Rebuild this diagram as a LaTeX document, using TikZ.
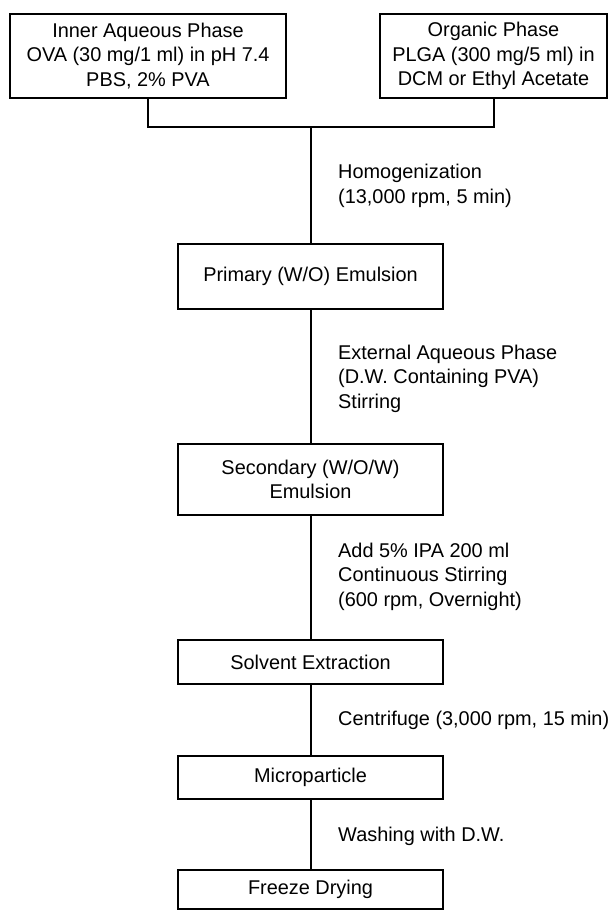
\documentclass[tikz,border=0pt]{standalone}
\usepackage{fontspec}
\setmainfont{Liberation Sans}
\begin{document}
\begin{tikzpicture}[x=1pt,y=-1pt,
  box/.style={draw,line width=2pt,inner sep=0pt,align=center,
    font=\fontsize{19.9}{24.5}\selectfont},
  lbl/.style={anchor=west,inner sep=0pt,align=left,
    font=\fontsize{19.9}{24.5}\selectfont},
  conn/.style={line width=2pt}]
\useasboundingbox (0,0) rectangle (609,911);
\node[box,minimum width=276pt,minimum height=84pt] (inner) at (148,56)
  {Inner Aqueous Phase\\OVA (30 mg/1 ml) in pH 7.4\\PBS, 2\% PVA};
\node[box,minimum width=227pt,minimum height=84pt] (organic) at (493.5,56)
  {Organic Phase\\PLGA (300 mg/5 ml) in\\DCM or Ethyl Acetate};
\coordinate (j) at (310.5,127);
\node[box,minimum width=265pt,minimum height=65pt] (primary) at (310.5,276.5)
  {Primary (W/O) Emulsion};
\node[box,minimum width=265pt,minimum height=71pt] (secondary) at (310.5,479.5)
  {Secondary (W/O/W)\\Emulsion};
\node[box,minimum width=265pt,minimum height=44pt] (solvent) at (310.5,662)
  {Solvent Extraction};
\node[box,minimum width=265pt,minimum height=43pt] (micro) at (310.5,777.5)
  {Microparticle};
\node[box,minimum width=265pt,minimum height=39pt] (freeze) at (310.5,889.5)
  {Freeze Drying};
\draw[conn] (inner.south) -- (inner.south |- j) -- (organic.south |- j) -- (organic.south);
\draw[conn] (j) -- (primary.north);
\draw[conn] (primary) -- (secondary);
\draw[conn] (secondary) -- (solvent);
\draw[conn] (solvent) -- (micro);
\draw[conn] (micro) -- (freeze);
\node[lbl] (l1) at (338,186) {Homogenization\\(13,000 rpm, 5 min)};
\node[lbl] (l2) at (338,378.5) {External Aqueous Phase\\(D.W. Containing PVA)\\Stirring};
\node[lbl] (l3) at (338,576.5) {Add 5\% IPA 200 ml\\Continuous Stirring\\(600 rpm, Overnight)};
\node[lbl] (l4) at (338,720) {Centrifuge (3,000 rpm, 15 min)};
\node[lbl] (l5) at (338,836) {Washing with D.W.};
\end{tikzpicture}
\end{document}
